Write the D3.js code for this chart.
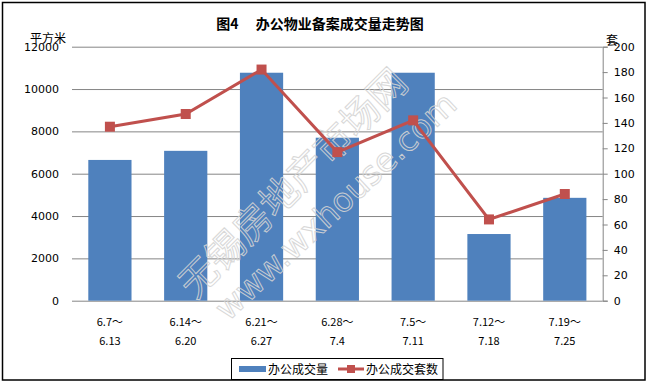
<!DOCTYPE html>
<html><head><meta charset="utf-8">
<script src="https://cdn.jsdelivr.net/npm/d3@7"></script>
<style>body{margin:0;background:#fff}svg{display:block}</style>
</head><body>
<svg id="c" width="648" height="383"></svg>
<script>
const catLine1 = ["6.7～","6.14～","6.21～","6.28～","7.5～","7.12～","7.19～"];
const catLine2 = ["6.13","6.20","6.27","7.4","7.11","7.18","7.25"];
const areaValues = [6650, 7080, 10770, 7700, 10770, 3150, 4860];
const countValues = [137, 147, 182, 117, 142, 64, 84];
const leftTicks = [0,2000,4000,6000,8000,10000,12000];
const rightTicks = [0,20,40,60,80,100,120,140,160,180,200];
const title = "图4　 办公物业备案成交量走势图";
const leftUnit = "平方米", rightUnit = "套";
const seriesNames = ["办公成交量","办公成交套数"];

const svg = d3.select("#c");
const numFont = "'DejaVu Sans', Verdana, sans-serif";
const cjkFont = "'Noto Sans CJK SC', sans-serif";
const blue = "#4F81BD", red = "#C0504D", grid = "#868686";

svg.append("rect").attr("x",2.5).attr("y",2.5).attr("width",642.5).attr("height",377.5)
  .attr("fill","#fff").attr("stroke","#000").attr("stroke-width",1.5);

const L = 72, R = 602.7, T = 46.7, B = 300.7;
const idx = d3.range(catLine1.length);
const x = d3.scaleBand().domain(idx).range([L,R]).paddingInner(0.43).paddingOuter(0.215);
const yL = d3.scaleLinear().domain([0,12000]).range([B,T]);
const yR = d3.scaleLinear().domain([0,200]).range([B,T]);

// gridlines
svg.append("g").selectAll("line").data(leftTicks).join("line")
  .attr("x1",L).attr("x2",R).attr("y1",d=>yL(d)+0.5).attr("y2",d=>yL(d)+0.5)
  .attr("stroke",grid).attr("stroke-width",1);

// left labels
svg.append("g").selectAll("text").data(leftTicks).join("text")
  .attr("x",59).attr("y",d=>yL(d)).attr("dy","0.36em").attr("text-anchor","end")
  .attr("font-family",numFont).attr("font-size",11).attr("fill","#000").text(d=>d);

// right axis
const ra = svg.append("g").attr("transform",`translate(${R},0)`)
  .call(d3.axisRight(yR).tickValues(rightTicks).tickSize(5).tickPadding(6));
ra.select(".domain").attr("stroke",grid);
ra.selectAll(".tick line").attr("stroke",grid);
ra.selectAll(".tick text").attr("font-family",numFont).attr("font-size",11).attr("fill","#000");

// bars
svg.append("g").selectAll("rect").data(idx).join("rect")
  .attr("x",i=>x(i)).attr("width",x.bandwidth())
  .attr("y",i=>yL(areaValues[i])).attr("height",i=>B-yL(areaValues[i]))
  .attr("fill",blue);

// watermark
const wm = svg.append("g").attr("fill","none").attr("stroke","#d4d4d4").attr("stroke-width",1).attr("opacity",0.9);
wm.append("text").attr("transform","translate(195,300) rotate(-45)")
  .attr("font-family",cjkFont).attr("font-size",38).text("无锡房地产市场网");
wm.append("text").attr("transform","translate(228,322) rotate(-43)")
  .attr("font-family","'DejaVu Sans', sans-serif").attr("font-size",33).text("www.wxhouse.com");

// line
const cx = i => x(i)+x.bandwidth()/2;
svg.append("path").datum(idx)
  .attr("d", d3.line().x(cx).y(i=>yR(countValues[i])))
  .attr("fill","none").attr("stroke",red).attr("stroke-width",3);
svg.append("g").selectAll("rect").data(idx).join("rect")
  .attr("x",i=>cx(i)-5).attr("y",i=>yR(countValues[i])-5).attr("width",10).attr("height",10)
  .attr("fill",red);

// x labels
const xl = svg.append("g").attr("font-family",cjkFont).attr("font-size",11).attr("text-anchor","middle").attr("fill","#000");
xl.selectAll(".l1").data(idx).join("text").attr("class","l1")
  .attr("x",i=>cx(i)).attr("y",326).text(i=>catLine1[i]);
xl.selectAll(".l2").data(idx).join("text").attr("class","l2")
  .attr("x",i=>cx(i)).attr("y",345).text(i=>catLine2[i]);

// title and units
svg.append("text").attr("x",320).attr("y",29).attr("text-anchor","middle")
  .attr("font-family",cjkFont).attr("font-weight","bold").attr("font-size",14).text(title);
svg.append("text").attr("x",30).attr("y",43).attr("font-family",cjkFont).attr("font-size",12).text(leftUnit);
svg.append("text").attr("x",606).attr("y",45).attr("font-family",cjkFont).attr("font-size",12).text(rightUnit);

// legend
const lg = svg.append("g");
lg.append("rect").attr("x",231.5).attr("y",358.5).attr("width",211.5).attr("height",21)
  .attr("fill","#fff").attr("stroke","#000").attr("stroke-width",1);
lg.append("rect").attr("x",239).attr("y",366).attr("width",27).attr("height",6).attr("fill",blue);
lg.append("text").attr("x",268).attr("y",374).attr("font-family",cjkFont).attr("font-size",12).text(seriesNames[0]);
lg.append("line").attr("x1",338).attr("x2",364).attr("y1",369).attr("y2",369).attr("stroke",red).attr("stroke-width",3);
lg.append("rect").attr("x",347).attr("y",365).attr("width",8).attr("height",8).attr("fill",red);
lg.append("text").attr("x",366).attr("y",374).attr("font-family",cjkFont).attr("font-size",12).text(seriesNames[1]);
</script>
</body></html>
